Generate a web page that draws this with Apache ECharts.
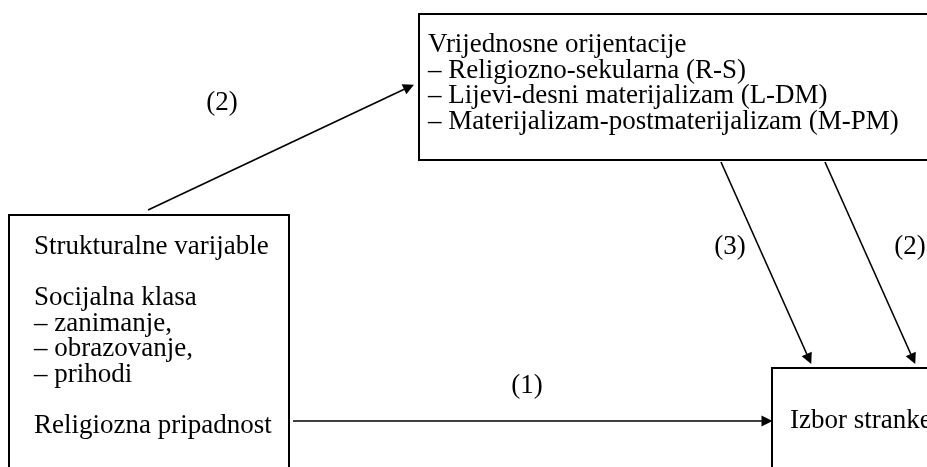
<!DOCTYPE html>
<html>
<head>
<meta charset="utf-8">
<script src="https://cdn.jsdelivr.net/npm/echarts@6/dist/echarts.min.js"></script>
<style>
  html, body { margin: 0; padding: 0; background: #fff; }
  #main { width: 927px; height: 467px; }
</style>
</head>
<body>
<div id="main"></div>
<script>
// tekst u okvirima (prazan string = prazan red)
let valueLines = [
    'Vrijednosne orijentacije',
    '– Religiozno-sekularna (R-S)',
    '– Lijevi-desni materijalizam (L-DM)',
    '– Materijalizam-postmaterijalizam (M-PM)'
];
let structLines = [
    'Strukturalne varijable',
    '',
    'Socijalna klasa',
    '– zanimanje,',
    '– obrazovanje,',
    '– prihodi',
    '',
    'Religiozna pripadnost'
];
let choiceLines = ['Izbor stranke'];

// okviri u koordinatama slike: [x0, y0, x1, y1, tekstX, prviRedY]
let boxRects = [
    [419, 14, 1000, 160, 428, 45],
    [9, 215, 289, 600, 34, 247],
    [772, 368, 1000, 600, 790, 421]
];
let boxTexts = [valueLines, structLines, choiceLines];

// strelice: [od, do] i oznake putanja
let arrowPaths = [
    [[293, 421], [767, 421]],
    [[148, 210], [409, 87]],
    [[721, 162], [809, 359]],
    [[825, 162], [913, 359]]
];
let pathLabels = ['(1)', '(2)', '(3)', '(2)'];
let labelPoints = [[527, 386], [222, 103], [730, 247], [910, 247]];

let lineGap = 25.5;
let fontSize = 27;
let font = fontSize + 'px "Liberation Serif"';

let chart = echarts.init(document.getElementById('main'), null, { renderer: 'canvas' });

chart.setOption({
    animation: false,
    backgroundColor: '#fff',
    grid: { left: 0, right: 0, top: 0, bottom: 0 },
    xAxis: { type: 'value', min: 0, max: 927, show: false },
    yAxis: { type: 'value', min: 0, max: 467, inverse: true, show: false },
    series: [{
        type: 'custom',
        coordinateSystem: 'cartesian2d',
        clip: false,
        data: boxRects,
        renderItem: function (params, api) {
            let r = boxRects[params.dataIndex];
            let p0 = api.coord([r[0], r[1]]);
            let p1 = api.coord([r[2], r[3]]);
            let children = [{
                type: 'rect',
                shape: { x: p0[0], y: p0[1], width: p1[0] - p0[0], height: p1[1] - p0[1] },
                style: { fill: 'none', stroke: '#000', lineWidth: 2 }
            }];
            boxTexts[params.dataIndex].forEach(function (t, i) {
                if (!t) return;
                let pt = api.coord([r[4], r[5] + i * lineGap]);
                children.push({
                    type: 'text',
                    style: {
                        text: t, x: pt[0], y: pt[1], font: font, fill: '#000',
                        align: 'left', verticalAlign: 'middle'
                    }
                });
            });
            return { type: 'group', children: children };
        }
    }, {
        type: 'lines',
        coordinateSystem: 'cartesian2d',
        symbol: ['none', 'triangle'],
        symbolSize: [0, 11],
        lineStyle: { color: '#000', width: 1.6, opacity: 1 },
        itemStyle: { color: '#000' },
        data: arrowPaths.map(function (p) { return { coords: p }; })
    }, {
        type: 'scatter',
        symbolSize: 0,
        itemStyle: { opacity: 1 },
        data: labelPoints.map(function (p, i) { return { name: pathLabels[i], value: p }; }),
        label: {
            show: true, position: 'inside', formatter: '{b}',
            color: '#000', fontFamily: 'Liberation Serif', fontSize: fontSize
        }
    }]
});
</script>
</body>
</html>
